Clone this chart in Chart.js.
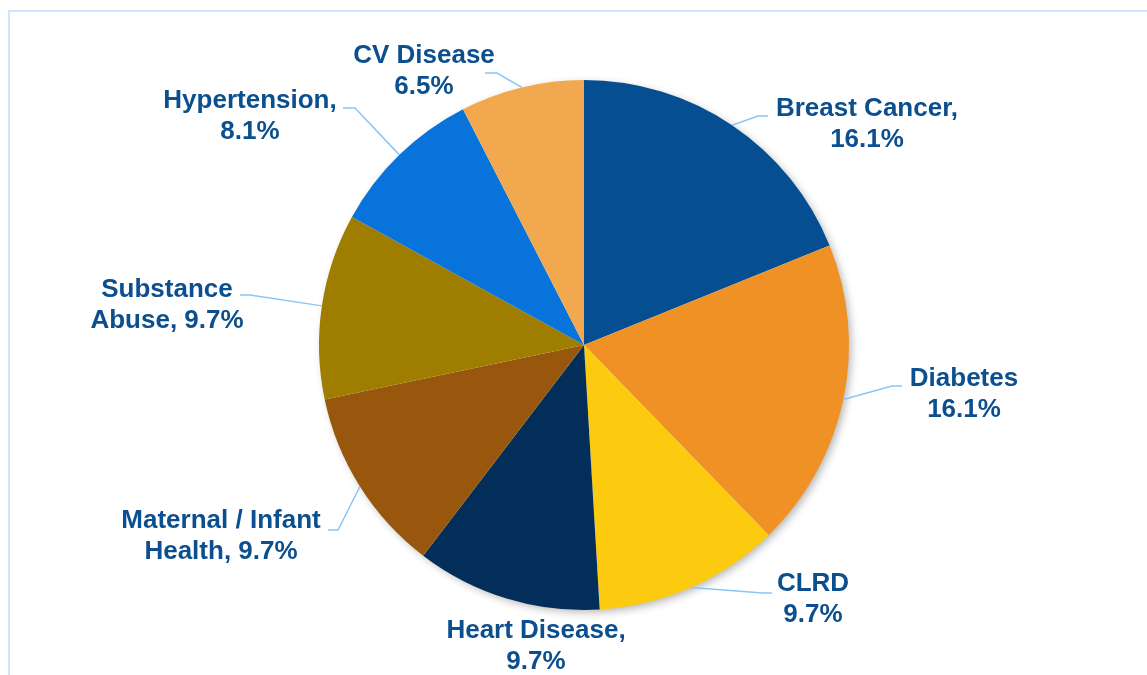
<!DOCTYPE html>
<html>
<head>
<meta charset="utf-8">
<script src="https://cdn.jsdelivr.net/npm/chart.js@4.4.1/dist/chart.umd.min.js"></script>
<style>
  html, body { margin: 0; padding: 0; background: #fff; overflow: hidden; }
  #wrap { position: relative; width: 1147px; height: 675px; }
  #frame {
    position: absolute; left: 8px; top: 10px; width: 2000px; height: 2000px;
    border-top: 2px solid #cfe5f9; border-left: 2px solid #cfe5f9;
  }
  canvas { position: absolute; left: 0; top: 0; }
</style>
</head>
<body>
<div id="wrap">
  <div id="frame"></div>
  <canvas id="pie" width="1147" height="675"></canvas>
</div>
<script>
// counts per focus area (labels show share of all 62 responses)
const categories = ["Breast Cancer", "Diabetes", "CLRD", "Heart Disease",
  "Maternal / Infant Health", "Substance Abuse", "Hypertension", "CV Disease"];
const counts = [10, 10, 6, 6, 6, 6, 5, 4];
const labelLines = [
  ["Breast Cancer,", "16.1%"],
  ["Diabetes", "16.1%"],
  ["CLRD", "9.7%"],
  ["Heart Disease,", "9.7%"],
  ["Maternal / Infant", "Health, 9.7%"],
  ["Substance", "Abuse, 9.7%"],
  ["Hypertension,", "8.1%"],
  ["CV Disease", "6.5%"],
];
const COLORS = ["#054e91", "#f09125", "#fccb0f", "#032e5a",
  "#99570d", "#9e7d00", "#0873db", "#f1a84e"];

// label block centre and leader elbow, offsets from pie centre
const LABEL_POS = [[283, -221], [380, 49], [229, 254], [-48, 301],
  [-363, 191], [-417, -40], [-334, -229], [-160, -274]];
const LEADER = [[[184, -229], [174, -229]], [[318, 41], [308, 41]],
  [[188, 248], [179, 248]], null, [[-256, 185], [-246, 185]],
  [[-344, -50], [-334, -50]], [[-241, -237], [-229, -237]],
  [[-99, -272], [-87, -272]]];

const labelPlugin = {
  id: "pieLabels",
  beforeDatasetDraw(chart) {
    // soft shadow under the whole disc, not each slice
    const arc = chart.getDatasetMeta(0).data[0];
    const ctx = chart.ctx;
    ctx.save();
    ctx.shadowColor = "rgba(0,0,0,0.3)";
    ctx.shadowBlur = 9;
    ctx.shadowOffsetX = 3;
    ctx.shadowOffsetY = 3;
    ctx.fillStyle = "#ffffff";
    ctx.beginPath();
    ctx.arc(arc.x, arc.y, arc.outerRadius - 1, 0, Math.PI * 2);
    ctx.fill();
    ctx.restore();
  },
  afterDraw(chart) {
    const ctx = chart.ctx;
    const arcs = chart.getDatasetMeta(0).data;
    ctx.save();
    arcs.forEach((arc, i) => {
      const cx = arc.x, cy = arc.y;
      const mid = (arc.startAngle + arc.endAngle) / 2;
      const ex = cx + Math.cos(mid) * arc.outerRadius;
      const ey = cy + Math.sin(mid) * arc.outerRadius;
      const lead = LEADER[i];
      if (lead) {
        ctx.strokeStyle = "#8cc4f6";
        ctx.lineWidth = 1.5;
        ctx.beginPath();
        ctx.moveTo(cx + lead[0][0], cy + lead[0][1]);
        ctx.lineTo(cx + lead[1][0], cy + lead[1][1]);
        ctx.lineTo(ex, ey);
        ctx.stroke();
      }
      const [lx, ly] = LABEL_POS[i];
      ctx.fillStyle = "#0c4f8e";
      ctx.font = "bold 26px 'Liberation Sans', Arial, sans-serif";
      ctx.textAlign = "center";
      ctx.textBaseline = "middle";
      const lines = labelLines[i];
      const lh = 31;
      lines.forEach((t, k) => {
        ctx.fillText(t, cx + lx, cy + ly + (k - (lines.length - 1) / 2) * lh);
      });
    });
    ctx.restore();
  },
};

new Chart(document.getElementById("pie"), {
  type: "pie",
  data: {
    labels: categories,
    datasets: [{
      data: counts,
      backgroundColor: COLORS,
      borderWidth: 0,
    }],
  },
  options: {
    responsive: false,
    animation: false,
    layout: { padding: { top: 80, bottom: 65, left: 319, right: 298 } },
    plugins: { legend: { display: false }, tooltip: { enabled: false } },
  },
  plugins: [labelPlugin],
});
</script>
</body>
</html>
